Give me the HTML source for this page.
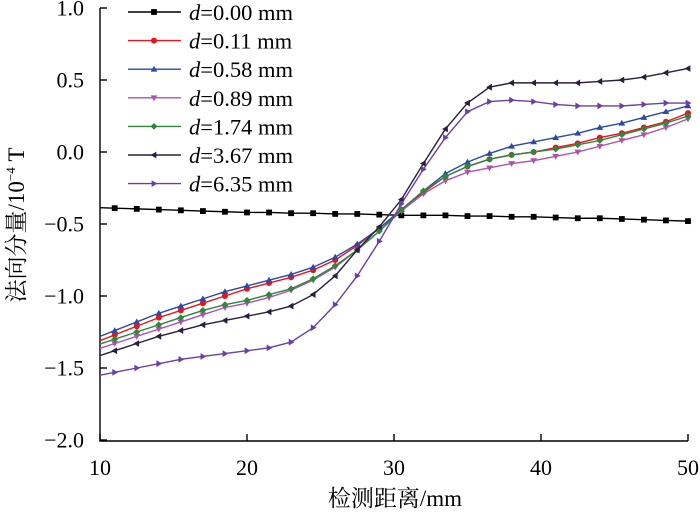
<!DOCTYPE html>
<html><head><meta charset="utf-8"><style>
body{margin:0;background:#fff}
svg text{font-family:"Liberation Serif","Noto Serif CJK SC",serif;fill:#000}
</style></head><body>
<svg id="c" width="700" height="513"></svg>
<script>
const xVals=[11,12.5,14,15.5,17,18.5,20,21.5,23,24.5,26,27.5,29,30.5,32,33.5,35,36.5,38,39.5,41,42.5,44,45.5,47,48.5,50];
const labels=["d=0.00 mm","d=0.11 mm","d=0.58 mm","d=0.89 mm","d=1.74 mm","d=3.67 mm","d=6.35 mm"];
const s000=[-0.39,-0.395,-0.40,-0.405,-0.41,-0.415,-0.42,-0.42,-0.425,-0.425,-0.43,-0.43,-0.435,-0.44,-0.44,-0.44,-0.445,-0.445,-0.45,-0.45,-0.455,-0.46,-0.46,-0.465,-0.47,-0.475,-0.48];
const s011=[-1.27,-1.21,-1.15,-1.10,-1.05,-1.00,-0.95,-0.91,-0.87,-0.82,-0.75,-0.65,-0.53,-0.40,-0.28,-0.17,-0.10,-0.05,-0.02,0.00,0.03,0.06,0.10,0.13,0.17,0.21,0.27];
const s058=[-1.24,-1.18,-1.12,-1.07,-1.02,-0.97,-0.93,-0.89,-0.85,-0.80,-0.73,-0.64,-0.53,-0.40,-0.27,-0.15,-0.07,-0.01,0.04,0.07,0.10,0.13,0.17,0.20,0.24,0.28,0.32];
const s089=[-1.33,-1.28,-1.23,-1.18,-1.13,-1.08,-1.05,-1.01,-0.96,-0.89,-0.80,-0.68,-0.55,-0.41,-0.29,-0.20,-0.14,-0.11,-0.08,-0.06,-0.03,0.00,0.04,0.08,0.12,0.17,0.23];
const s174=[-1.30,-1.25,-1.20,-1.15,-1.10,-1.06,-1.03,-0.99,-0.95,-0.88,-0.79,-0.68,-0.55,-0.40,-0.27,-0.17,-0.10,-0.05,-0.02,0.00,0.02,0.05,0.08,0.12,0.16,0.20,0.25];
const s367=[-1.38,-1.33,-1.28,-1.24,-1.20,-1.17,-1.14,-1.11,-1.07,-0.99,-0.86,-0.68,-0.52,-0.33,-0.08,0.16,0.34,0.45,0.48,0.48,0.48,0.48,0.49,0.50,0.52,0.55,0.58];
const s635=[-1.53,-1.50,-1.47,-1.44,-1.42,-1.40,-1.38,-1.36,-1.32,-1.22,-1.06,-0.86,-0.62,-0.36,-0.12,0.10,0.28,0.35,0.36,0.35,0.33,0.32,0.32,0.32,0.33,0.34,0.34];
const xTicks=[10,20,30,40,50];
const yTicks=[1.0,0.5,0.0,-0.5,-1.0,-1.5,-2.0];
const yTickLabels=["1.0","0.5","0.0","\u22120.5","\u22121.0","\u22121.5","\u22122.0"];

const series=[s000,s011,s058,s089,s174,s367,s635];
const colors=["#000","#e8141c","#2a4aa8","#b050b0","#2a8a3a","#2a1f3c","#6a3fa8"];
const markers=["square","circle","tri-up","tri-down","diamond","tri-left","tri-right"];
const X=v=>100+(v-10)*14.7, Y=v=>152-v*144;
const svg=document.getElementById('c');const NS="http://www.w3.org/2000/svg";
function mk(t,a,p){const e=document.createElementNS(NS,t);for(const k in a)e.setAttribute(k,a[k]);(p||svg).appendChild(e);return e;}
function marker(type,x,y,c,g){const r=3.4;let e;
 if(type==="square")e=mk('rect',{x:x-2.9,y:y-2.9,width:5.8,height:5.8,fill:c},g);
 else if(type==="circle")e=mk('circle',{cx:x,cy:y,r:3,fill:c},g);
 else{let pts;
  if(type==="tri-up")pts=[[x,y-r],[x-r,y+r*0.7],[x+r,y+r*0.7]];
  if(type==="tri-down")pts=[[x,y+r],[x-r,y-r*0.7],[x+r,y-r*0.7]];
  if(type==="tri-left")pts=[[x-r,y],[x+r*0.7,y-r],[x+r*0.7,y+r]];
  if(type==="tri-right")pts=[[x+r,y],[x-r*0.7,y-r],[x-r*0.7,y+r]];
  if(type==="diamond")pts=[[x,y-r],[x+r,y],[x,y+r],[x-r,y]];
  e=mk('polygon',{points:pts.map(p=>p.join(',')).join(' '),fill:c},g);}
 
 }
const ax=mk('path',{d:"M100,8 V441 H688",stroke:"#000","stroke-width":1.4,fill:"none"});


yTicks.forEach((v,i)=>{
 const t=mk('line',{x1:100,x2:107,y1:Y(v),y2:Y(v),stroke:"#000","stroke-width":1.4});
 
 
 const l=mk('text',{x:84,y:Y(v)+7.5,"text-anchor":"end","font-size":22});l.textContent=yTickLabels[i];
 
 
});
xTicks.forEach(v=>{
 const t=mk('line',{x1:X(v),x2:X(v),y1:441,y2:434,stroke:"#000","stroke-width":1.4});
 
 
 const l=mk('text',{x:X(v),y:475,"text-anchor":"middle","font-size":22});l.textContent=v;
 
 
});
const xt=mk('text',{x:395,y:506,"text-anchor":"middle","font-size":23});xt.textContent="检测距离/mm";


const yt=mk('text',{x:0,y:0,"text-anchor":"middle","font-size":23,transform:"translate(24,225) rotate(-90)"});
yt.innerHTML='法向分量/10<tspan dy="-9" font-size="13">−4</tspan><tspan dy="9"> T</tspan>';


series.forEach((s,k)=>{
 const g=mk('g',{});
 
 
 const pts=[[X(10),Y(s[0]+(s[0]-s[1])*0.67)]].concat(s.map((v,i)=>[X(xVals[i]),Y(v)]));
 mk('polyline',{points:pts.map(p=>p.join(',')).join(' '),fill:"none",stroke:colors[k],"stroke-width":1.4},g);
 s.forEach((v,i)=>marker(markers[k],X(xVals[i]),Y(v),colors[k],g));
 const ly=12+k*28.6;
 const lg=mk('g',{});
 
 
 mk('line',{x1:128,x2:181,y1:ly,y2:ly,stroke:colors[k],"stroke-width":1.4},lg);
 marker(markers[k],154,ly,colors[k],lg);
 const tx=mk('text',{x:189,y:ly+8,"font-size":22.5},lg);
 tx.innerHTML='<tspan font-style="italic">d</tspan>'+labels[k].slice(1);
});
</script>
</body></html>
